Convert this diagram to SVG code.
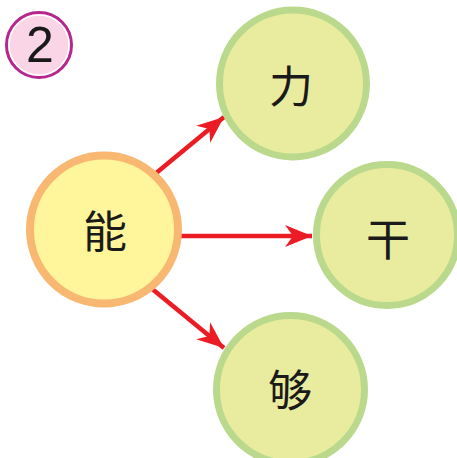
<svg xmlns="http://www.w3.org/2000/svg" width="457" height="458" viewBox="0 0 457 458">
<defs>
<marker id="ah" markerUnits="userSpaceOnUse" markerWidth="30" markerHeight="24" viewBox="-28 -12 30 24" refX="0" refY="0" orient="auto">
<path d="M0,0 L-27,-11 L-19,0 L-27,11 Z" fill="#EC1C24"/>
</marker>
<style>
.src{fill:#FFF59B;stroke:#F9B872;stroke-width:8}
.dst{fill:#E9EC9E;stroke:#BAD98C;stroke-width:7}
.lbl{font-family:"Noto Sans CJK SC","Noto Sans CJK TC",sans-serif;font-size:44px;fill:#1a1a1a;text-anchor:middle;dominant-baseline:central}
.edge{stroke:#EC1C24;stroke-width:4.5;fill:none;marker-end:url(#ah)}
</style>
</defs>
<g id="badge">
<circle cx="39" cy="45" r="32.5" fill="#F9D5E5" stroke="#B5278F" stroke-width="3"/>
<circle cx="39" cy="45" r="30" fill="none" stroke="#ffffff" stroke-width="1.5"/>
<text x="40" y="62" font-family="Liberation Sans, Arial, sans-serif" font-size="50" text-anchor="middle" fill="#1a1a1a">2</text>
</g>
<g id="connectors">
<line class="edge" x1="155" y1="174" x2="224" y2="117"/>
<line class="edge" x1="180" y1="236" x2="312" y2="236"/>
<line class="edge" x1="151" y1="288" x2="224" y2="348"/>
</g>
<g id="node-neng">
<circle class="src" cx="104" cy="229.5" r="74"/>
<text class="lbl" x="105" y="229">能</text>
</g>
<g id="node-li">
<circle class="dst" cx="293" cy="83.5" r="73.5"/>
<text class="lbl" x="291" y="84">力</text>
</g>
<g id="node-gan">
<circle class="dst" cx="387" cy="235" r="70.5"/>
<text class="lbl" x="388" y="237">干</text>
</g>
<g id="node-gou">
<circle class="dst" cx="290.5" cy="389.5" r="74"/>
<text class="lbl" x="290" y="388">够</text>
</g>
</svg>
